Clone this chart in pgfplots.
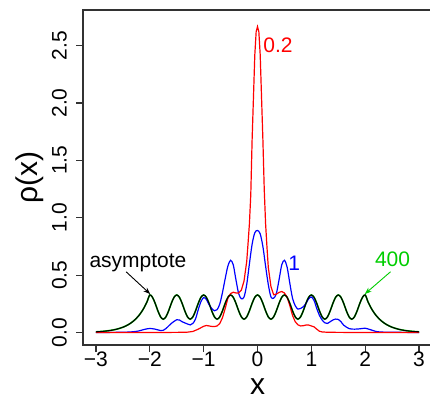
\documentclass[border=0pt]{standalone}
\usepackage{fontspec}
\setmainfont{Liberation Sans}
\usepackage{pgfplots}
\usepackage{pgfplotstable}
\pgfplotsset{compat=1.18}
\usetikzlibrary{arrows.meta}
\definecolor{rgreen}{RGB}{0,205,0}
\definecolor{axgray}{RGB}{50,50,50}

\pgfplotstableread{
x y
-3.00 0.0066
-2.90 0.0098
-2.80 0.0145
-2.70 0.0214
-2.60 0.0316
-2.50 0.0467
-2.45 0.0567
-2.40 0.0689
-2.35 0.0838
-2.30 0.1018
-2.25 0.1237
-2.20 0.1504
-2.15 0.1827
-2.10 0.2221
-2.05 0.2699
-2.00 0.3280
-1.95 0.3078
-1.90 0.2551
-1.85 0.1899
-1.80 0.1372
-1.75 0.1170
-1.70 0.1372
-1.65 0.1899
-1.60 0.2551
-1.55 0.3078
-1.50 0.3280
-1.45 0.3078
-1.40 0.2551
-1.35 0.1899
-1.30 0.1372
-1.25 0.1170
-1.20 0.1372
-1.15 0.1899
-1.10 0.2551
-1.05 0.3078
-1.00 0.3280
-0.95 0.3078
-0.90 0.2551
-0.85 0.1899
-0.80 0.1372
-0.75 0.1170
-0.70 0.1372
-0.65 0.1899
-0.60 0.2551
-0.55 0.3078
-0.50 0.3280
-0.45 0.3078
-0.40 0.2551
-0.35 0.1899
-0.30 0.1372
-0.25 0.1170
-0.20 0.1372
-0.15 0.1899
-0.10 0.2551
-0.05 0.3078
0.00 0.3280
0.05 0.3078
0.10 0.2551
0.15 0.1899
0.20 0.1372
0.25 0.1170
0.30 0.1372
0.35 0.1899
0.40 0.2551
0.45 0.3078
0.50 0.3280
0.55 0.3078
0.60 0.2551
0.65 0.1899
0.70 0.1372
0.75 0.1170
0.80 0.1372
0.85 0.1899
0.90 0.2551
0.95 0.3078
1.00 0.3280
1.05 0.3078
1.10 0.2551
1.15 0.1899
1.20 0.1372
1.25 0.1170
1.30 0.1372
1.35 0.1899
1.40 0.2551
1.45 0.3078
1.50 0.3280
1.55 0.3078
1.60 0.2551
1.65 0.1899
1.70 0.1372
1.75 0.1170
1.80 0.1372
1.85 0.1899
1.90 0.2551
1.95 0.3078
2.00 0.3280
2.05 0.2699
2.10 0.2221
2.15 0.1827
2.20 0.1504
2.25 0.1237
2.30 0.1018
2.35 0.0838
2.40 0.0689
2.45 0.0567
2.50 0.0467
2.60 0.0316
2.70 0.0214
2.80 0.0145
2.90 0.0098
3.00 0.0066
}\asym

\pgfplotstableread{
x y
-3.00 0.001
-2.50 0.003
-2.30 0.008
-2.20 0.015
-2.10 0.028
-2.00 0.036
-1.90 0.030
-1.80 0.018
-1.75 0.020
-1.70 0.035
-1.60 0.080
-1.50 0.112
-1.45 0.110
-1.40 0.095
-1.30 0.075
-1.25 0.067
-1.20 0.080
-1.15 0.120
-1.10 0.200
-1.05 0.270
-1.00 0.305
-0.95 0.290
-0.90 0.245
-0.85 0.210
-0.80 0.190
-0.75 0.200
-0.70 0.250
-0.65 0.350
-0.60 0.470
-0.55 0.580
-0.50 0.630
-0.45 0.590
-0.40 0.460
-0.35 0.340
-0.30 0.295
-0.25 0.310
-0.20 0.420
-0.15 0.600
-0.10 0.770
-0.05 0.870
0.00 0.890
0.05 0.860
0.10 0.750
0.15 0.580
0.20 0.420
0.25 0.310
0.30 0.300
0.35 0.340
0.40 0.460
0.45 0.590
0.50 0.630
0.55 0.570
0.60 0.430
0.65 0.300
0.70 0.235
0.75 0.205
0.80 0.210
0.85 0.225
0.90 0.255
0.95 0.295
1.00 0.310
1.05 0.280
1.10 0.210
1.15 0.150
1.20 0.110
1.25 0.085
1.30 0.080
1.35 0.095
1.40 0.110
1.45 0.118
1.50 0.115
1.55 0.095
1.60 0.065
1.70 0.035
1.80 0.030
1.90 0.033
2.00 0.038
2.10 0.025
2.20 0.010
2.30 0.005
2.50 0.003
3.00 0.001
}\blue

\pgfplotstableread{
x y
-3.00 0.000
-2.00 0.001
-1.50 0.002
-1.30 0.004
-1.20 0.010
-1.10 0.030
-1.00 0.055
-0.95 0.062
-0.90 0.058
-0.85 0.054
-0.80 0.052
-0.75 0.058
-0.70 0.080
-0.65 0.130
-0.60 0.210
-0.55 0.300
-0.50 0.340
-0.45 0.352
-0.40 0.345
-0.35 0.345
-0.30 0.370
-0.25 0.450
-0.20 0.620
-0.175 0.780
-0.15 0.950
-0.125 1.200
-0.10 1.680
-0.075 2.050
-0.05 2.420
-0.025 2.620
0.00 2.665
0.025 2.620
0.05 2.420
0.075 2.050
0.10 1.680
0.125 1.250
0.15 0.950
0.175 0.750
0.20 0.570
0.25 0.400
0.30 0.330
0.35 0.335
0.40 0.350
0.45 0.358
0.50 0.345
0.55 0.310
0.60 0.235
0.65 0.150
0.70 0.095
0.75 0.068
0.80 0.058
0.85 0.060
0.90 0.066
0.95 0.066
1.00 0.058
1.05 0.050
1.10 0.030
1.15 0.012
1.20 0.006
1.30 0.003
1.50 0.002
2.00 0.001
3.00 0.000
}\red

\begin{document}
\begin{tikzpicture}
\begin{axis}[
 name=ax,
 at={(83pt,55pt)}, anchor=south west,
 scale only axis, width=349pt, height=335pt,
 xmin=-3.24, xmax=3.24, ymin=-0.108, ymax=2.81,
 axis line style={axgray, line width=1.5pt},
 tick style={line width=1.2pt, axgray},
 tick align=outside, major tick length=7pt,
 xtick pos=bottom, ytick pos=left,
 xtick={-3,-2,-1,0,1,2,3}, xticklabels={−3,−2,−1,0,1,2,3},
 ytick={0,0.5,1,1.5,2,2.5}, yticklabels={0.0,0.5,1.0,1.5,2.0,2.5},
 ticklabel style={font=\fontsize{21}{25}\selectfont, inner sep=0pt},
 xticklabel style={anchor=north},
 yticklabel style={rotate=90, anchor=south},
 xticklabel shift=0pt, yticklabel shift=9pt,
 xlabel={x}, ylabel={ρ(x)},
 label style={font=\fontsize{30}{36}\selectfont},
 xlabel style={at={(axis description cs:0.5,-0.149)}, anchor=base, inner sep=0pt},
 ylabel style={at={(axis description cs:-0.129,0.5)}, anchor=base, inner sep=0pt},
 clip=false,
]
\addplot[rgreen, line width=1.6pt, smooth] table {\asym};
\addplot[blue, line width=1.2pt, smooth] table {\blue};
\addplot[red, line width=1.2pt] table {\red};
\addplot[black, line width=1.1pt, smooth] table {\asym};
\node[text=red, font=\fontsize{21}{25}\selectfont, inner sep=0pt] at (axis cs:0.38,2.50) {0.2};
\node[text=blue, font=\fontsize{21}{25}\selectfont, inner sep=0pt] at (axis cs:0.68,0.607) {1};
\node[text=rgreen, font=\fontsize{21}{25}\selectfont, inner sep=0pt] at (axis cs:2.507,0.638) {400};
\node[text=black, font=\fontsize{21}{25}\selectfont, inner sep=0pt] at (axis cs:-2.219,0.611) {asymptote};
\draw[black, line width=0.9pt, -{Stealth[length=7pt,width=5pt]}] (axis cs:-2.44,0.53) -- (axis cs:-1.99,0.335);
\draw[rgreen, line width=0.9pt, -{Stealth[length=7pt,width=5pt]}] (axis cs:2.47,0.53) -- (axis cs:1.99,0.335);
\end{axis}
\pgfresetboundingbox
\path[use as bounding box] (0,0) rectangle (430pt,400pt);
\end{tikzpicture}
\end{document}
